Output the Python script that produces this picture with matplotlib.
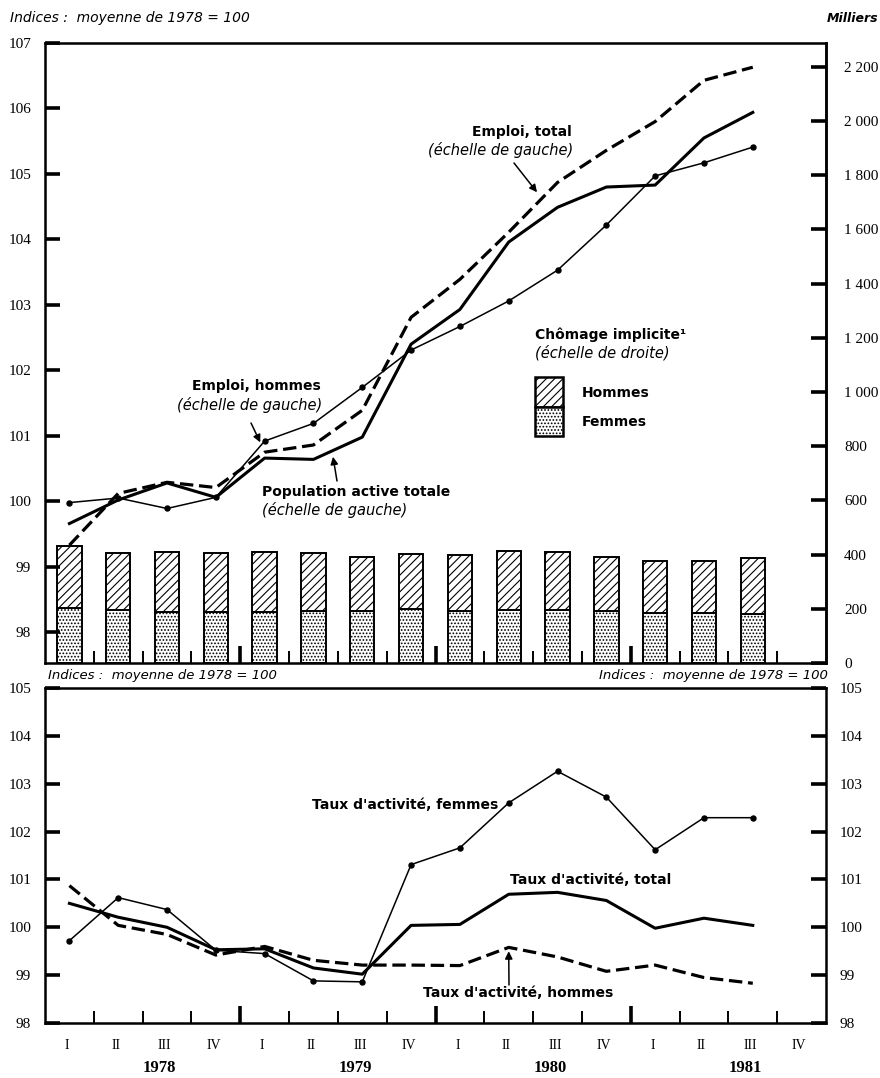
import matplotlib
matplotlib.use("Agg")
import matplotlib.pyplot as plt
import numpy as np
from matplotlib.patches import Rectangle

# ---------------------------------------------------------------- data
years = ["1978", "1979", "1980", "1981"]
quarter_names = ["I", "II", "III", "IV"]

# Upper panel, indices (average 1978 = 100), 1978 Q1 .. 1981 Q3
emploi_total = [99.33, 100.12, 100.29, 100.21, 100.75, 100.86, 101.39, 102.81,
                103.39, 104.11, 104.87, 105.36, 105.80, 106.43, 106.63]
population_active = [99.66, 100.02, 100.28, 100.06, 100.66, 100.64, 100.98, 102.40,
                     102.93, 103.96, 104.49, 104.80, 104.83, 105.55, 105.94]
emploi_hommes = [99.98, 100.05, 99.89, 100.06, 100.92, 101.19, 101.74, 102.31,
                 102.67, 103.06, 103.53, 104.22, 104.97, 105.17, 105.41]

# Implicit unemployment, thousands
chomage_femmes = [202, 195, 190, 190, 190, 193, 193, 200, 193, 195, 195, 193, 184, 186, 180]
chomage_hommes = [231, 211, 219, 216, 219, 212, 199, 203, 204, 220, 214, 200, 191, 189, 208]

# Lower panel, participation rates (average 1978 = 100)
taux_femmes = [99.72, 100.62, 100.37, 99.52, 99.45, 98.88, 98.86, 101.31,
               101.66, 102.60, 103.26, 102.72, 101.62, 102.29, 102.29]
taux_total = [100.50, 100.21, 100.00, 99.53, 99.55, 99.15, 99.02, 100.04,
              100.06, 100.69, 100.73, 100.56, 99.98, 100.19, 100.04]
taux_hommes = [100.87, 100.04, 99.85, 99.42, 99.60, 99.31, 99.21, 99.21,
               99.20, 99.58, 99.38, 99.08, 99.21, 98.95, 98.83]

left_ticks_top = list(range(98, 108))
right_ticks_top = list(range(0, 2201, 200))
ticks_bottom = list(range(98, 106))

# ---------------------------------------------------------------- styling
plt.rcParams['hatch.linewidth'] = 0.8
plt.rcParams['hatch.color'] = 'black'

SERIF = ['Liberation Serif', 'DejaVu Serif']
TICK_FONT = dict(fontfamily=SERIF, fontsize=11)
LABEL_FONT = dict(fontfamily=['DejaVu Sans'], fontsize=10, fontweight='bold')
ITAL_FONT = dict(fontfamily=['DejaVu Sans'], fontsize=10.5, fontstyle='oblique')
YEAR_FONT = dict(fontfamily=SERIF, fontsize=12, fontweight='bold')

W, H = 880, 1078
fig = plt.figure(figsize=(W / 100, H / 100), dpi=100)
fig.patch.set_facecolor('white')


def fxy(px, py):
    """Figure-fraction position from a pixel position measured from the top-left."""
    return px / W, 1 - py / H


X0, X1 = 45, 826
ax_top = fig.add_axes([X0 / W, 1 - 663 / H, (X1 - X0) / W, (663 - 43) / H])
ax_bot = fig.add_axes([X0 / W, 1 - 1023 / H, (X1 - X0) / W, (1023 - 688) / H])
ax_bar = ax_top.twinx()
ax_top.set_zorder(ax_bar.get_zorder() + 1)
ax_top.patch.set_visible(False)

n_q = len(years) * len(quarter_names)
x = np.arange(len(emploi_total)) + 0.5

DASH = (0, (4.2, 1.8))
ARROW = dict(arrowstyle='-|>', color='black', lw=1.1, mutation_scale=11, shrinkA=0, shrinkB=0)

# ---------------------------------------------------------------- upper panel
ax_bar.bar(x, chomage_femmes, width=0.5, facecolor='white', edgecolor='black',
           hatch='.....', linewidth=1.4, zorder=2)
ax_bar.bar(x, chomage_hommes, bottom=chomage_femmes, width=0.5, facecolor='white',
           edgecolor='black', hatch='////', linewidth=1.4, zorder=2)

ax_top.plot(x, emploi_total, color='black', lw=2.3, linestyle=DASH, zorder=3)
ax_top.plot(x, population_active, color='black', lw=2.2, zorder=3)
ax_top.plot(x, emploi_hommes, color='black', lw=1.1, marker='o', ms=3.6, zorder=4)

ax_top.set_xlim(0, n_q)
ax_top.set_ylim(97.53, 107)
ax_bar.set_ylim(0, 2288)

for ax in (ax_top, ax_bot):
    for s in ax.spines.values():
        s.set_linewidth(1.8)
ax_bar.spines['right'].set_linewidth(1.8)

ax_top.set_yticks(left_ticks_top, labels=[str(v) for v in left_ticks_top], **TICK_FONT)
ax_top.tick_params(axis='y', which='major', direction='in', length=11, width=2.6, pad=10,
                   left=True, right=False)
ax_bar.set_yticks(right_ticks_top,
                  labels=[f"{v:,}".replace(",", " ") for v in right_ticks_top], **TICK_FONT)
ax_bar.tick_params(axis='y', direction='in', length=11, width=2.6, pad=13)

year_bounds = [4 * i for i in range(1, len(years))]
quarter_bounds = [i for i in range(1, n_q) if i % 4]
for ax in (ax_top, ax_bot):
    ax.set_xticks(year_bounds)
    ax.set_xticks(quarter_bounds, minor=True)
    ax.tick_params(axis='x', which='major', direction='in', length=12, width=2.6,
                   labelbottom=False, top=False)
    ax.tick_params(axis='x', which='minor', direction='in', length=9, width=1.4, top=False)

# annotations, upper panel
fig.text(*fxy(572, 132), "Emploi, total", ha='right', va='center', **LABEL_FONT)
fig.text(*fxy(573, 150), "(échelle de gauche)", ha='right', va='center', **ITAL_FONT)
ax_top.annotate("", xy=(10.08, 104.72), xytext=fxy(514, 163), textcoords='figure fraction',
                arrowprops=ARROW)

fig.text(*fxy(321, 386), "Emploi, hommes", ha='right', va='center', **LABEL_FONT)
fig.text(*fxy(322, 405), "(échelle de gauche)", ha='right', va='center', **ITAL_FONT)
ax_top.annotate("", xy=(4.41, 100.9), xytext=fxy(251, 423), textcoords='figure fraction',
                arrowprops=ARROW)

fig.text(*fxy(262, 492), "Population active totale", ha='left', va='center', **LABEL_FONT)
fig.text(*fxy(262, 510), "(échelle de gauche)", ha='left', va='center', **ITAL_FONT)
ax_top.annotate("", xy=(5.9, 100.68), xytext=fxy(337, 481), textcoords='figure fraction',
                arrowprops=ARROW)

fig.text(*fxy(535, 335), "Chômage implicite\u00b9", ha='left', va='center', **LABEL_FONT)
fig.text(*fxy(535, 353), "(échelle de droite)", ha='left', va='center', **ITAL_FONT)

# legend boxes
bx0, bx1 = 535, 563
for (ya, yb, hatch, name) in [(377, 407, '////', "Hommes"), (407, 436, '.....', "Femmes")]:
    (fx, fy) = fxy(bx0, yb)
    fig.patches.append(Rectangle((fx, fy), (bx1 - bx0) / W, (yb - ya) / H,
                                 transform=fig.transFigure, facecolor='white',
                                 edgecolor='black', hatch=hatch, linewidth=1.8))
    fig.text(*fxy(582, (ya + yb) / 2 + 1), name, ha='left', va='center', **LABEL_FONT)

# ---------------------------------------------------------------- lower panel
ax_bot.plot(x, taux_hommes, color='black', lw=2.3, linestyle=DASH, zorder=3)
ax_bot.plot(x, taux_total, color='black', lw=2.2, zorder=3)
ax_bot.plot(x, taux_femmes, color='black', lw=1.1, marker='o', ms=3.6, zorder=4)

ax_bot.set_xlim(0, n_q)
ax_bot.set_ylim(98, 105)
ax_bot.set_yticks(ticks_bottom, labels=[str(v) for v in ticks_bottom], **TICK_FONT)
ax_bot.tick_params(axis='y', direction='in', length=11, width=2.6, pad=10,
                   left=True, right=True, labelleft=True, labelright=True)

fig.text(*fxy(312, 805), "Taux d'activité, femmes", ha='left', va='center', **LABEL_FONT)
fig.text(*fxy(510, 880), "Taux d'activité, total", ha='left', va='center', **LABEL_FONT)
fig.text(*fxy(423, 993), "Taux d'activité, hommes", ha='left', va='center', **LABEL_FONT)
ax_bot.annotate("", xy=(9.5, 99.5), xytext=fxy(509, 985), textcoords='figure fraction',
                arrowprops=ARROW)

# quarter and year labels under the lower panel
xt = ax_bot.get_xaxis_transform()
for i in range(n_q):
    ax_bot.text(i + 0.45, -0.066, quarter_names[i % 4], transform=xt, ha='center',
                va='center', fontfamily=SERIF, fontsize=10)
for j, yr in enumerate(years):
    ax_bot.text(4 * j + 2.35, -0.135, yr, transform=xt, ha='center', va='center', **YEAR_FONT)

# headers
fig.text(*fxy(10, 18), "Indices :  moyenne de 1978 = 100", ha='left', va='center',
         fontfamily=['DejaVu Sans'], fontsize=10, fontstyle='oblique')
fig.text(*fxy(878, 18), "Milliers", ha='right', va='center',
         fontfamily=['DejaVu Sans'], fontsize=9, fontstyle='oblique', fontweight='bold')
fig.text(*fxy(48, 676), "Indices :  moyenne de 1978 = 100", ha='left', va='center',
         fontfamily=['DejaVu Sans'], fontsize=9.5, fontstyle='oblique')
fig.text(*fxy(828, 676), "Indices :  moyenne de 1978 = 100", ha='right', va='center',
         fontfamily=['DejaVu Sans'], fontsize=9.5, fontstyle='oblique')

fig.savefig("out.png", dpi=100, facecolor='white')
